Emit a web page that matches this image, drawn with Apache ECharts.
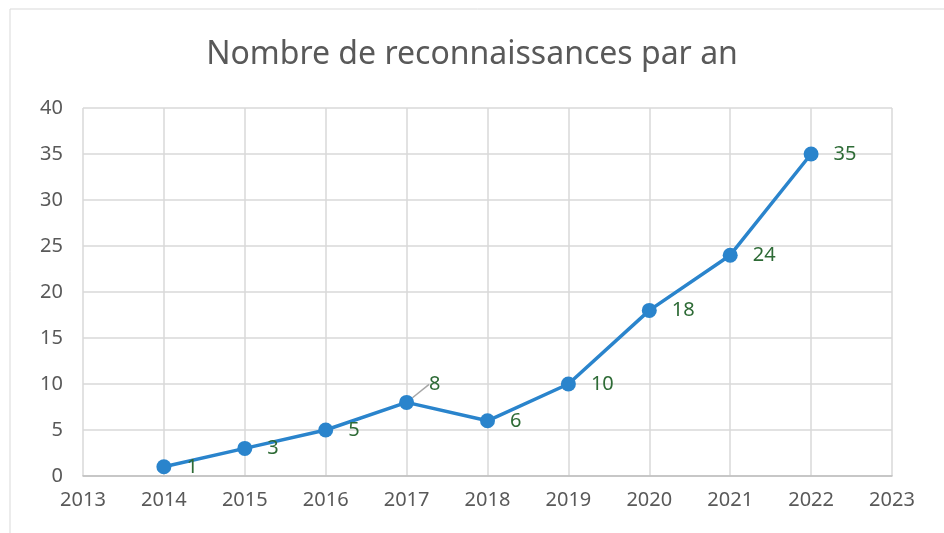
<!DOCTYPE html>
<html>
<head>
<meta charset="utf-8">
<script src="https://cdn.jsdelivr.net/npm/echarts@6/dist/echarts.min.js"></script>
<style>
  html, body { margin: 0; padding: 0; background: #fff; }
  #chart { width: 944px; height: 533px; }
</style>
</head>
<body>
<div id="chart"></div>
<script>
// données
const years = [2014, 2015, 2016, 2017, 2018, 2019, 2020, 2021, 2022];
const counts = [1, 3, 5, 8, 6, 10, 18, 24, 35];
const titleText = "Nombre de reconnaissances par an";
const movedLabel = 3; // étiquette de 2017 déplacée avec une ligne de rappel

const chart = echarts.init(document.getElementById("chart"));

const axisText = { color: "#595959", fontSize: 20, fontFamily: "Noto Sans" };

const option = {
  backgroundColor: "#fff",
  title: {
    text: titleText,
    left: "center",
    top: 34,
    textStyle: { color: "#595959", fontSize: 32, fontWeight: "normal", fontFamily: "Noto Sans" }
  },
  graphic: [
    {
      type: "rect",
      shape: { x: 10, y: 9, width: 940, height: 530 },
      style: { fill: "none", stroke: "#d9d9d9", lineWidth: 1 },
      silent: true
    }
  ],
  grid: { left: 83, right: 52, top: 108, bottom: 57 },
  xAxis: {
    type: "value",
    min: 2013,
    max: 2023,
    interval: 1,
    axisLine: { show: true, onZero: false, lineStyle: { color: "#bfbfbf", width: 1.5 } },
    axisTick: { show: false },
    axisLabel: { ...axisText, margin: 14, formatter: (v) => String(v) },
    splitLine: { show: true, lineStyle: { color: "#d9d9d9", width: 1.5 } }
  },
  yAxis: {
    type: "value",
    min: 0,
    max: 40,
    interval: 5,
    axisLine: { show: false },
    axisTick: { show: false },
    axisLabel: { ...axisText, margin: 20 },
    splitLine: { show: true, lineStyle: { color: "#d9d9d9", width: 1.5 } }
  },
  series: [
    {
      type: "line",
      data: years.map((y, i) => {
        const item = { value: [y, counts[i]] };
        if (i === movedLabel) {
          item.labelLine = { show: true, lineStyle: { color: "#a6a6a6", width: 1.5 } };
        }
        return item;
      }),
      symbol: "circle",
      symbolSize: 15,
      itemStyle: { color: "#2a84cc" },
      lineStyle: { color: "#2a84cc", width: 3.5 },
      label: {
        show: true,
        position: "right",
        distance: 15,
        offset: [0, 3],
        color: "#2e6b36",
        fontSize: 20,
        fontFamily: "Noto Sans",
        formatter: (p) => p.value[1]
      },
      labelLayout: (params) => (params.dataIndex === movedLabel ? { dy: -18 } : {}),
      labelLine: { show: false }
    }
  ]
};

chart.setOption(option);
</script>
</body>
</html>
